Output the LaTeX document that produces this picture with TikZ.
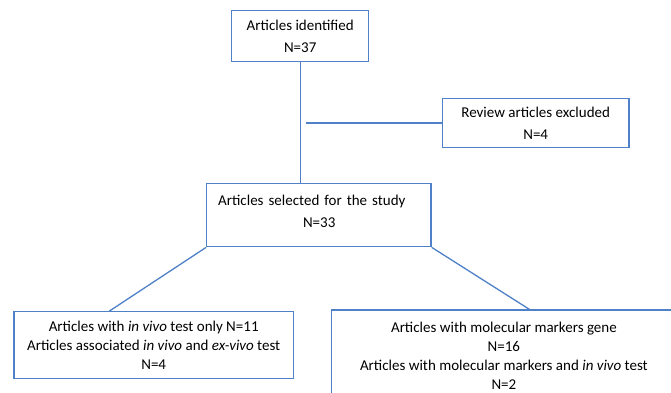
\documentclass[tikz,border=0pt]{standalone}
\usepackage{fontspec}
\setmainfont{Carlito}
\definecolor{lineblue}{HTML}{4F81C8}
\begin{document}
\begin{tikzpicture}[x=1pt,y=-1pt,
  font=\fontsize{15}{19}\selectfont,
  box/.style={draw=lineblue, line width=1.3pt, inner sep=0pt, align=center},
  conn/.style={draw=lineblue, line width=1.3pt},
  txt/.style={inner sep=0pt}]
\clip (0,0) rectangle (671,392);
\fill[white] (0,0) rectangle (671,392);
% boxes
\node[box, minimum width=137pt, minimum height=50.8pt] (top) at (300.2,36.1)
  {\rule{0pt}{0pt}\raisebox{-1pt}{\parbox{130pt}{\centering Articles identified\\[2.7pt]N=37}}};
\node[box, minimum width=186.7pt, minimum height=49.4pt] (review) at (535.7,123)
  {\raisebox{-1.5pt}{\parbox{180pt}{\centering Review articles excluded\\[2.7pt]N=4}}};
\node[box, minimum width=224.3pt, minimum height=63.4pt] (sel) at (318.9,215) {};
\node[txt, anchor=west, text width=202pt, align=left] (seltxt) at (218,211)
  {Articles selected for the study\\[3pt]\makebox[\linewidth]{N=33}};
\node[box, minimum width=279.3pt, minimum height=67pt] (left) at (153.7,345.2)
  {Articles with \textit{in vivo} test only N=11\\
   Articles associated \textit{in vivo} and \textit{ex-vivo} test\\
   N=4};
\node[box, minimum width=344.3pt, minimum height=92pt] (right) at (503.9,356)
  {Articles with molecular markers gene\\
   N=16\\
   Articles with molecular markers and \textit{in vivo} test\\
   N=2};
% connectors
\coordinate (hstart) at (306,123);
\draw[conn] (top.south) -- (top.south |- sel.north);
\draw[conn] (hstart) -- (review.west);
\draw[conn] (sel.south west) -- ([xshift=96pt]left.north west);
\draw[conn] (sel.south east) -- ([xshift=198.3pt]right.north west);
\end{tikzpicture}
\end{document}
